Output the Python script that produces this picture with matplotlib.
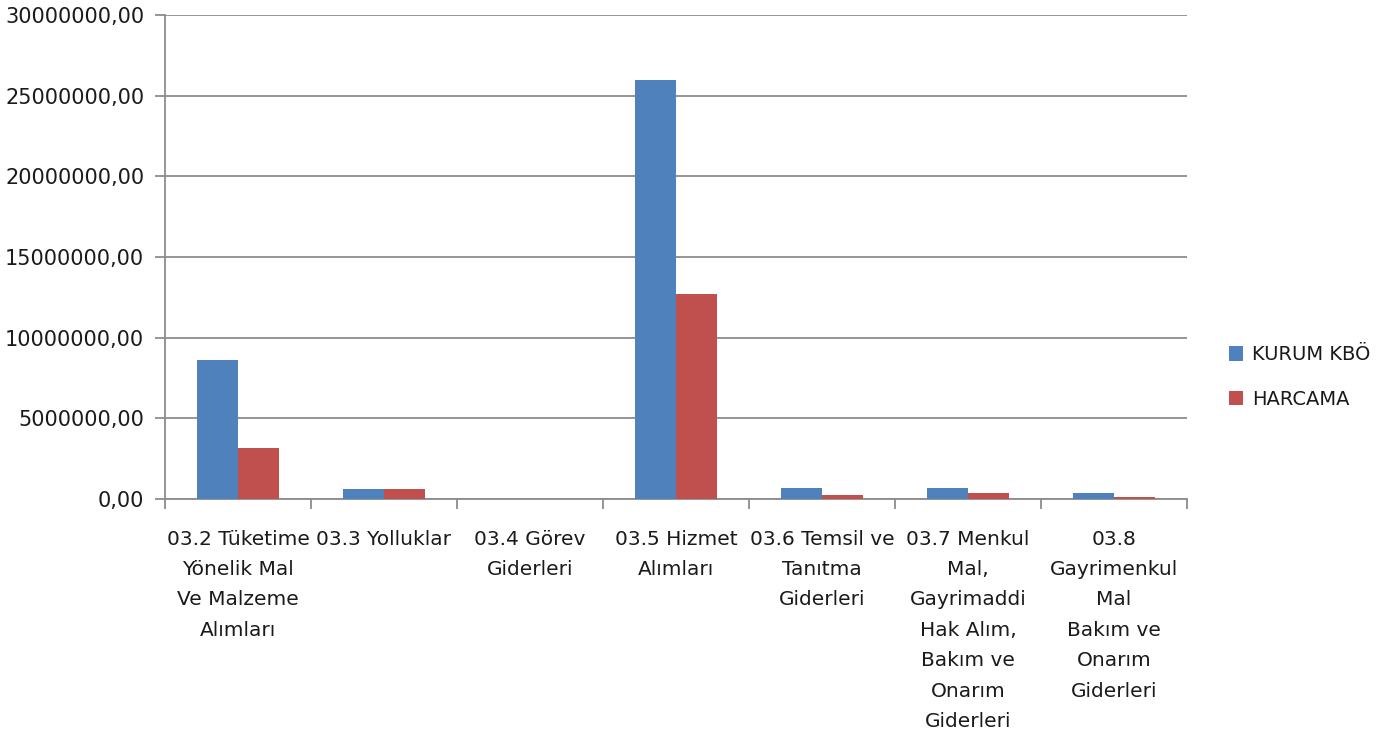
import numpy as np
import matplotlib
matplotlib.use("Agg")
import matplotlib.pyplot as plt
from matplotlib.ticker import FuncFormatter, FixedLocator

categories = [
    "03.2 Tüketime\nYönelik Mal\nVe Malzeme\nAlımları",
    "03.3 Yolluklar",
    "03.4 Görev\nGiderleri",
    "03.5 Hizmet\nAlımları",
    "03.6 Temsil ve\nTanıtma\nGiderleri",
    "03.7 Menkul\nMal,\nGayrimaddi\nHak Alım,\nBakım ve\nOnarım\nGiderleri",
    "03.8\nGayrimenkul\nMal\nBakım ve\nOnarım\nGiderleri",
]
kurum_kbo = [8620000, 600000, 0, 25970000, 700000, 700000, 370000]
harcama = [3140000, 600000, 0, 12690000, 270000, 370000, 140000]

plt.rcParams['font.family'] = ['DejaVu Sans']

fig = plt.figure(figsize=(13.94, 7.37), dpi=100)
ax = fig.add_axes([165 / 1394, 1 - 499 / 737, (1187 - 165) / 1394, (499 - 15) / 737])

x = np.arange(len(categories))
w = 0.28
ax.bar(x - w / 2, kurum_kbo, w, color='#4F81BD', label='KURUM KBÖ', zorder=3)
ax.bar(x + w / 2, harcama, w, color='#C0504D', label='HARCAMA', zorder=3)

ax.set_xlim(-0.5, len(categories) - 0.5)
ax.set_ylim(0, 30000000)
ax.set_yticks(np.arange(0, 30000001, 5000000))
ax.yaxis.set_major_formatter(FuncFormatter(lambda v, p: "%d,00" % v))
ax.grid(axis='y', color='#8c8c8c', linewidth=1.3, zorder=0)

# tick marks between categories, labels at the centres
ax.xaxis.set_major_locator(FixedLocator(np.arange(-0.5, len(categories), 1.0)))
ax.xaxis.set_major_formatter(FuncFormatter(lambda v, p: ""))
ax.set_xticks(x, minor=True)
ax.set_xticklabels(categories, minor=True, linespacing=1.76)
ax.tick_params(axis='x', which='major', length=7, width=1.3, color='#8c8c8c', direction='out')
ax.tick_params(axis='x', which='minor', length=0, pad=22, labelsize=14.5, labelcolor='#1a1a1a')
ax.tick_params(axis='y', length=7, width=1.3, color='#8c8c8c', pad=8, labelsize=15, labelcolor='#1a1a1a')

for s in ['top', 'right']:
    ax.spines[s].set_visible(False)
for s in ['left', 'bottom']:
    ax.spines[s].set_color('#8c8c8c')
    ax.spines[s].set_linewidth(1.3)

fig.legend(loc='center left', bbox_to_anchor=(1211 / 1394, 1 - 377 / 737), frameon=False,
           handlelength=0.75, handleheight=0.75, handletextpad=0.45, labelspacing=1.3,
           fontsize=14, labelcolor='#1a1a1a')

fig.savefig("out.png", dpi=100)
